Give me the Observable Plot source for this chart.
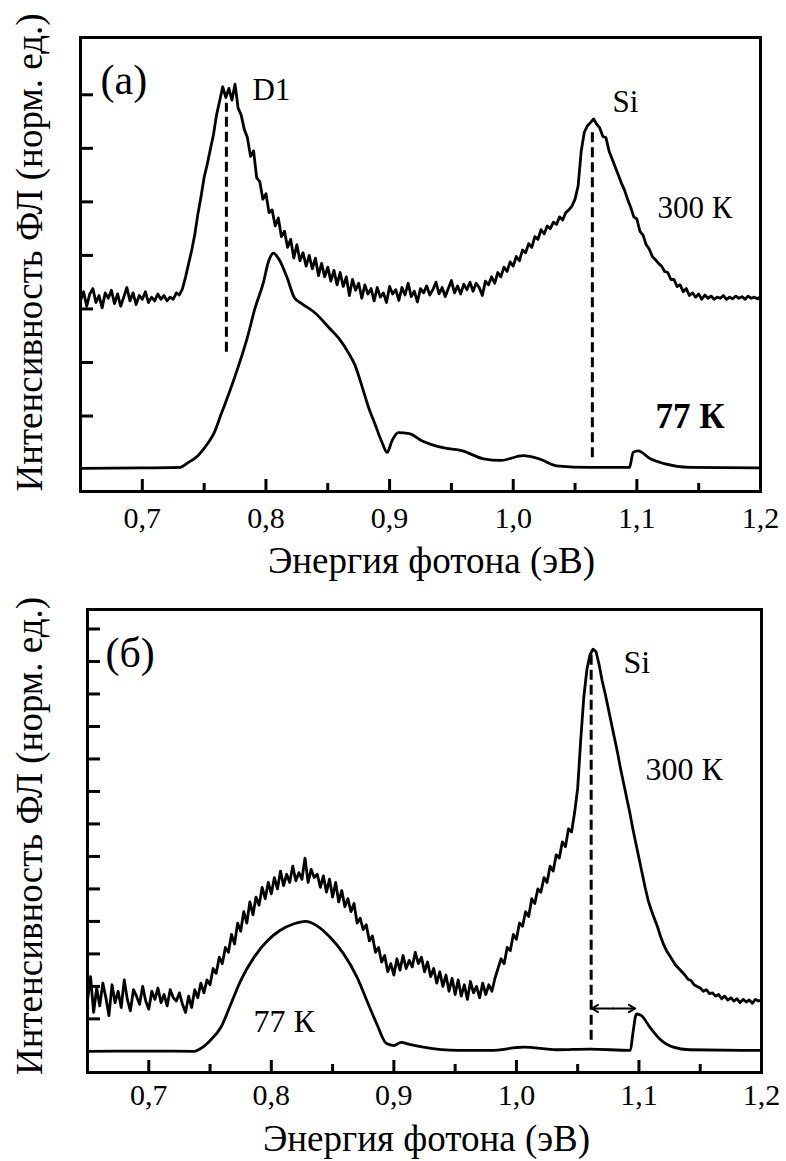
<!DOCTYPE html>
<html><head><meta charset="utf-8">
<script src="https://cdn.jsdelivr.net/npm/d3@7"></script>
<script src="https://cdn.jsdelivr.net/npm/@observablehq/plot@0.6"></script>
<style>
html,body{margin:0;padding:0;background:#fff;}
#a,#b{display:block;line-height:0;}
svg{display:block;}
svg, svg text{font-family:"Liberation Serif","Times New Roman",serif !important;}
</style></head><body>
<div id="a"></div><div id="b"></div>
<script>
// ---- axis ticks ----
const xMajor = [0.7, 0.8, 0.9, 1.0, 1.1, 1.2];
const xMinor = [0.75, 0.85, 0.95, 1.05, 1.15];
const xTickLabels = ["0,7", "0,8", "0,9", "1,0", "1,1", "1,2"];
const yTicksA = [1, 2, 3, 4, 5, 6, 7];
const yTicksB = [1, 2, 3, 4, 5, 6, 7, 8, 9, 10, 11, 12, 13];

// ---- spectra: 300 K curves sampled every 0.0025 eV from 0.65 eV ----
const gridStart = 0.65, gridStep = 0.0025;
const pl300a = [
  3.15,3.32,3.05,3.28,3.38,3.12,3.25,3.02,3.30,3.20,
  3.35,3.10,3.28,3.05,3.22,3.40,3.15,3.30,3.08,3.25,
  3.18,3.32,3.12,3.22,3.15,3.28,3.18,3.25,3.15,3.22,
  3.18,3.30,3.26,3.38,3.60,3.85,4.10,4.40,4.78,5.10,
  5.46,5.70,5.98,6.25,6.62,6.88,7.15,6.95,7.12,6.90,
  7.20,6.75,6.62,6.35,6.20,5.85,5.95,5.45,5.38,5.05,
  5.15,4.80,4.85,4.55,4.70,4.35,4.45,4.15,4.30,3.95,
  4.20,3.90,4.05,3.80,4.00,3.75,3.95,3.62,3.85,3.60,
  3.78,3.52,3.72,3.45,3.68,3.42,3.60,3.25,3.55,3.35,
  3.48,3.20,3.45,3.28,3.38,3.15,3.40,3.22,3.30,3.12,
  3.42,3.28,3.36,3.16,3.40,3.26,3.48,3.23,3.33,3.13,
  3.38,3.30,3.43,3.26,3.36,3.50,3.28,3.40,3.23,3.38,
  3.53,3.30,3.43,3.28,3.46,3.36,3.50,3.33,3.48,3.40,
  3.25,3.52,3.45,3.60,3.48,3.68,3.60,3.78,3.70,3.88,
  3.80,3.98,3.90,4.10,4.05,4.22,4.15,4.35,4.30,4.48,
  4.40,4.55,4.50,4.62,4.58,4.72,4.66,4.80,4.85,4.92,
  5.05,5.30,5.95,6.30,6.42,6.48,6.55,6.45,6.38,6.22,
  6.20,5.95,5.80,5.65,5.50,5.35,5.22,5.05,4.90,4.72,
  4.68,4.45,4.38,4.20,4.12,3.98,3.92,3.85,3.80,3.70,
  3.68,3.55,3.55,3.42,3.45,3.32,3.38,3.25,3.30,3.22,
  3.28,3.18,3.26,3.20,3.24,3.18,3.22,3.20,3.25,3.18,
  3.22,3.19,3.24,3.20,3.23,3.18,3.24,3.20,3.22,3.19,
  3.23
];
const pl300b = [
  1.55,2.30,1.20,1.95,1.40,2.10,1.65,1.10,2.05,1.50,
  1.85,1.35,2.20,1.60,1.25,1.90,1.70,1.45,2.00,1.55,
  1.30,1.85,1.60,1.95,1.50,1.75,1.40,1.90,1.65,1.55,
  1.80,1.45,1.20,1.70,1.35,1.90,1.65,2.10,1.80,2.20,
  2.05,2.55,2.40,2.90,2.70,3.20,3.05,3.60,3.30,3.95,
  3.70,4.30,3.95,4.60,4.20,4.75,4.50,5.05,4.70,5.20,
  4.85,5.35,5.00,5.55,5.10,5.45,5.20,5.70,5.25,5.50,
  5.30,5.95,5.20,5.60,5.35,5.45,5.05,5.40,4.90,5.30,
  4.75,5.20,4.60,4.95,4.45,4.70,4.30,4.55,3.95,4.10,
  3.75,3.90,3.40,3.55,3.05,3.20,2.75,2.95,2.45,2.70,
  2.35,2.85,2.50,2.95,2.55,2.80,2.60,3.05,2.70,2.90,
  2.45,2.75,2.30,2.55,2.10,2.45,2.00,2.35,1.85,2.25,
  1.75,2.20,1.70,2.05,1.60,2.15,1.80,2.00,1.65,2.10,
  1.75,2.05,1.85,2.25,2.55,2.85,2.70,3.20,3.10,3.60,
  3.45,3.95,3.85,4.30,4.15,4.70,4.55,5.00,4.90,5.35,
  5.20,5.70,5.55,6.05,5.95,6.45,6.30,6.85,6.75,7.35,
  8.10,9.60,10.90,11.75,12.20,12.38,12.30,11.90,11.40,11.00,
  10.55,10.10,9.65,9.20,8.70,8.25,7.80,7.35,6.85,6.40,
  5.95,5.50,5.05,4.65,4.35,4.10,3.85,3.55,3.30,3.10,
  2.95,2.80,2.65,2.55,2.45,2.35,2.22,2.18,2.05,2.00,
  1.95,1.85,1.90,1.78,1.80,1.70,1.75,1.62,1.70,1.58,
  1.65,1.55,1.62,1.50,1.60,1.52,1.58,1.48,1.60,1.55,
  1.58
];

// ---- 77 K curves: [energy, intensity] ----
const pl77a = [
  [0.65,0.02],[0.70,0.03],[0.73,0.04],[0.737,0.13],[0.745,0.26],[0.753,0.49],[0.758,0.68],
  [0.764,1.05],[0.771,1.48],[0.778,1.95],[0.785,2.47],[0.791,3.0],[0.798,3.5],[0.802,3.88],
  [0.806,4.04],[0.811,3.91],[0.817,3.59],[0.823,3.21],[0.829,3.1],[0.84,2.92],[0.851,2.65],
  [0.859,2.45],[0.867,2.17],[0.872,1.95],[0.878,1.53],[0.883,1.16],[0.888,0.86],[0.894,0.5],
  [0.898,0.32],[0.902,0.54],[0.907,0.69],[0.916,0.67],[0.926,0.54],[0.943,0.41],[0.959,0.35],
  [0.976,0.2],[0.99,0.17],[1.008,0.26],[1.021,0.2],[1.035,0.07],[1.062,0.04],[1.094,0.04],
  [1.097,0.32],[1.101,0.35],[1.111,0.2],[1.122,0.11],[1.143,0.04],[1.2,0.03]
];
const pl77b = [
  [0.65,0.0],[0.70,0.01],[0.737,0.0],[0.742,0.08],[0.75,0.33],[0.759,0.75],[0.767,1.46],
  [0.775,2.18],[0.786,2.9],[0.797,3.41],[0.807,3.72],[0.818,3.92],[0.828,4.0],[0.837,3.87],
  [0.848,3.51],[0.859,3.0],[0.87,2.28],[0.878,1.56],[0.886,0.85],[0.894,0.24],[0.9,0.18],
  [0.906,0.28],[0.912,0.22],[0.924,0.13],[0.952,0.03],[0.979,0.03],[1.006,0.13],[1.033,0.05],
  [1.06,0.07],[1.093,0.03],[1.095,0.54],[1.098,1.15],[1.102,1.1],[1.109,0.74],[1.117,0.38],
  [1.128,0.13],[1.141,0.05],[1.2,0.03]
];

const FONT = "Liberation Serif";
const toGrid = arr => arr.map((v, i) => ({e: +(gridStart + gridStep * i).toFixed(4), v}));
const toPairs = arr => arr.map(([e, v]) => ({e, v}));

function panel(c) {
  const fw = 786 - c.ml - c.mr, fh = c.height - c.mt - c.mb;
  return Plot.plot({
    width: 786, height: c.height,
    marginTop: c.mt, marginBottom: c.mb, marginLeft: c.ml, marginRight: c.mr,
    style: {fontFamily: FONT, background: "white", color: "black", overflow: "visible"},
    x: {domain: [0.65, 1.2], axis: null},
    y: {domain: c.ydom, axis: null},
    marks: [
      Plot.tickX(xMajor, {x: d => d, insetTop: fh - 12, strokeWidth: 3, stroke: "black"}),
      Plot.tickX(xMinor, {x: d => d, insetTop: fh - 8, strokeWidth: 3, stroke: "black"}),
      Plot.tickY(c.yticks, {y: d => d, insetRight: fw - 13, strokeWidth: 3, stroke: "black"}),
      ...c.extra,
      Plot.line(toGrid(c.hot), {x: "e", y: "v", stroke: "black", strokeWidth: 2.8}),
      Plot.line(toPairs(c.cold), {x: "e", y: "v", stroke: "black", strokeWidth: 2.8, curve: "monotone-x"}),
      Plot.frame({stroke: "black", strokeWidth: 3}),
      Plot.text(xMajor, {x: d => d, text: (d, i) => xTickLabels[i], frameAnchor: "bottom",
        dy: c.tickDy, lineAnchor: "bottom", fontSize: 30, fontFamily: FONT, fill: "black"}),
      Plot.text(["Энергия фотона (эВ)"], {frameAnchor: "bottom", dx: c.xtDx, dy: c.xtDy,
        lineAnchor: "bottom", fontSize: 37, fontFamily: FONT, fill: "black"}),
      Plot.text(["Интенсивность ФЛ (норм. ед.)"], {frameAnchor: "left", dx: 30 - c.ml, dy: c.ytDy,
        rotate: -90, textAnchor: "middle", lineAnchor: "middle", fontSize: 37, fontFamily: FONT, fill: "black"}),
      ...c.labels
    ]
  });
}

const svgA = panel({
  height: 590, mt: 37, mb: 99, ml: 80, mr: 26,
  ydom: [-0.41, 8.07], yticks: yTicksA, hot: pl300a, cold: pl77a,
  tickDy: 36, xtDx: 11, xtDy: 81, ytDy: -12,
  extra: [
    Plot.ruleX([{x: 0.768, y1: 2.19, y2: 6.84}, {x: 1.064, y1: 0.22, y2: 6.34}],
      {x: "x", y1: "y1", y2: "y2", stroke: "black", strokeWidth: 3, strokeDasharray: "10,5"})
  ],
  labels: [
    Plot.text(["(а)"], {frameAnchor: "top-left", dx: 20, dy: 56, textAnchor: "start", lineAnchor: "bottom", fontSize: 42, fontFamily: FONT, fill: "black"}),
    Plot.text([{x: 0.7891, y: 6.90, t: "D1"}, {x: 1.0803, y: 6.67, t: "Si"}, {x: 1.1167, y: 4.69, t: "300 К"}],
      {x: "x", y: "y", text: "t", textAnchor: "start", lineAnchor: "bottom", fontSize: 31, fontFamily: FONT, fill: "black"}),
    Plot.text([{x: 1.1151, y: 0.785, t: "77 К"}],
      {x: "x", y: "y", text: "t", textAnchor: "start", lineAnchor: "bottom", fontSize: 35, fontWeight: "bold", fontFamily: FONT, fill: "black"})
  ]
});
document.getElementById("a").appendChild(svgA);

const svgB = panel({
  height: 571, mt: 19, mb: 89, ml: 87, mr: 25,
  ydom: [-0.65, 13.6], yticks: yTicksB, hot: pl300b, cold: pl77b,
  tickDy: 32, xtDx: 2, xtDy: 78, ytDy: -5,
  extra: [
    Plot.ruleX([{x: 1.061, y1: 0.34, y2: 12.25}],
      {x: "x", y1: "y1", y2: "y2", stroke: "black", strokeWidth: 3, strokeDasharray: "10,5"}),
    Plot.arrow([{x1: 1.079, x2: 1.0615, y: 1.32}, {x1: 1.079, x2: 1.097, y: 1.32}],
      {x1: "x1", x2: "x2", y1: "y", y2: "y", stroke: "black", strokeWidth: 2, headLength: 10, headAngle: 60})
  ],
  labels: [
    Plot.text(["(б)"], {frameAnchor: "top-left", dx: 18, dy: 57, textAnchor: "start", lineAnchor: "bottom", fontSize: 42, fontFamily: FONT, fill: "black"}),
    Plot.text([{x: 1.0874, y: 11.66, t: "Si"}, {x: 1.1053, y: 8.34, t: "300 К"}, {x: 0.7855, y: 0.585, t: "77 К"}],
      {x: "x", y: "y", text: "t", textAnchor: "start", lineAnchor: "bottom", fontSize: 32, fontFamily: FONT, fill: "black"})
  ]
});
document.getElementById("b").appendChild(svgB);
</script></body></html>
